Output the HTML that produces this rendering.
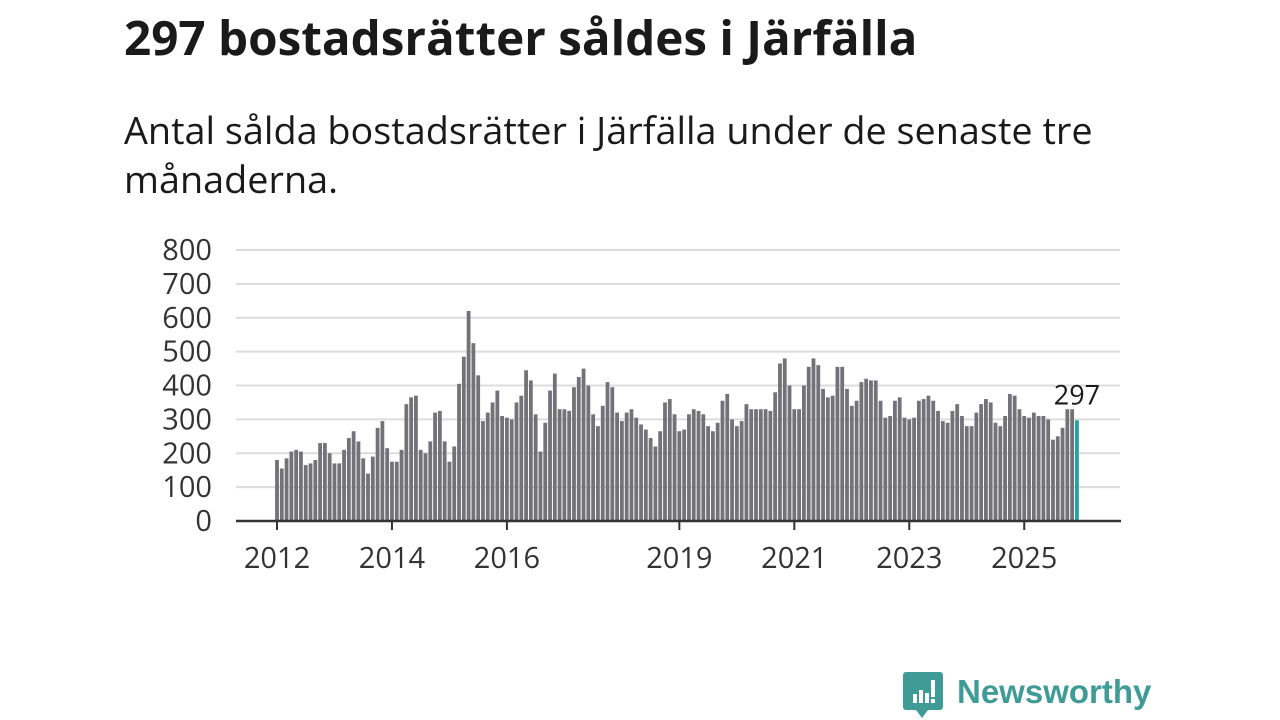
<!DOCTYPE html>
<html><head><meta charset="utf-8"><style>
body{margin:0;width:1280px;height:720px;background:#fff;overflow:hidden;font-family:"Open Sans","DejaVu Sans","Liberation Sans",sans-serif;}
#title{position:absolute;left:124px;top:4px;font-size:47.6px;font-weight:bold;color:#1a1a1a;margin:0;white-space:nowrap;}
#sub{position:absolute;left:124px;top:106px;font-size:37.8px;line-height:49px;color:#1a1a1a;width:1100px;}
svg{position:absolute;left:0;top:0;}
</style></head><body>
<h1 id="title">297 bostadsrätter såldes i Järfälla</h1>
<div id="sub">Antal sålda bostadsrätter i Järfälla under de senaste tre<br>månaderna.</div>
<svg id="chart" width="1280" height="720"></svg>
<script>
const values = [
180,155,185,205,210,205,165,170,180,230,230,200,
170,170,210,245,265,235,185,140,190,275,295,215,
175,175,210,345,365,370,210,200,235,320,325,235,
175,220,405,485,620,525,430,295,320,350,385,310,
305,300,350,370,445,415,315,205,290,385,435,330,
330,325,395,425,450,400,315,280,340,410,395,320,
295,320,330,305,285,270,245,220,265,350,360,315,
265,270,315,330,325,315,280,265,290,355,375,300,
280,295,345,330,330,330,330,325,380,465,480,400,
330,330,400,455,480,460,390,365,370,455,455,390,
340,355,410,420,415,415,355,305,310,355,365,305,
300,305,355,360,370,355,325,295,290,325,345,310,
280,280,320,345,360,350,290,280,310,375,370,330,
310,305,320,310,310,300,240,250,275,330,330,297];
const startYear = 2012;
const yTicks = [0,100,200,300,400,500,600,700,800];
const xTickYears = [2012,2014,2016,2019,2021,2023,2025];
const NS='http://www.w3.org/2000/svg';
const svg=document.getElementById('chart');
const x0=277, step=4.79, yZero=521, yScale=(521-250)/800;
const xPos=i=>x0+i*step;
const yPos=v=>yZero-v*yScale;
function mk(t,a){const e=document.createElementNS(NS,t);for(const k in a)e.setAttribute(k,a[k]);svg.appendChild(e);return e;}
yTicks.forEach(t=>{
  if(t>0){const g=mk('line',{x1:236,x2:1120,y1:yPos(t),y2:yPos(t),stroke:'#dcdcdc','stroke-width':2});
  
  }
  const l=mk('text',{x:212,y:yPos(t)+10,'text-anchor':'end','font-size':29,fill:'#333','font-family':'"Open Sans","DejaVu Sans",sans-serif'});
  l.textContent=t;
  
  
});
values.forEach((v,i)=>{
  const last=i===values.length-1;
  const r=mk('rect',{x:xPos(i)-1.9,y:yPos(v),width:3.8,height:v*yScale,fill:last?'#1fa3a0':'#737277'});
  
  
});
const ax=mk('line',{x1:236,x2:1121,y1:yZero,y2:yZero,stroke:'#333','stroke-width':2.5});


xTickYears.forEach(yr=>{
  const xi=xPos((yr-startYear)*12);
  const t=mk('line',{x1:xi,x2:xi,y1:yZero,y2:yZero+9,stroke:'#333','stroke-width':2});
  
  
  const l=mk('text',{x:xi,y:568,'text-anchor':'middle','font-size':29,fill:'#333','font-family':'"Open Sans","DejaVu Sans",sans-serif'});
  l.textContent=yr;
  
  
});
const li=values.length-1;
const vl=mk('text',{x:xPos(li)-0,y:yPos(values[li])-16,'text-anchor':'middle','font-size':27,fill:'#1a1a1a','font-family':'"Open Sans","DejaVu Sans",sans-serif'});
vl.textContent=values[li];


</script>
<svg width="1280" height="720" style="pointer-events:none">
<path d="M906 672 h34 a3 3 0 0 1 3 3 v32 a3 3 0 0 1 -3 3 h-12 l-6 8 l-6 -8 h-10 a3 3 0 0 1 -3 -3 v-32 a3 3 0 0 1 3 -3z" fill="#3f9b96"/>
<rect x="913" y="694" width="4" height="9" fill="#fff"/><rect x="919" y="690" width="4" height="13" fill="#fff"/><rect x="925" y="693" width="4" height="10" fill="#fff"/><rect x="931" y="680" width="4" height="17" fill="#fff"/><rect x="931" y="699" width="4" height="4" fill="#fff"/>
<text x="957" y="703" font-size="33" font-weight="bold" fill="#3f9b96" font-family="'Liberation Sans',sans-serif">Newsworthy</text>
</svg>
</body></html>
